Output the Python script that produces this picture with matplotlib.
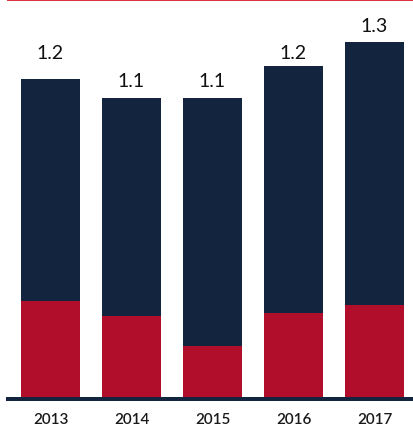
import matplotlib.pyplot as plt

# Yearly values, red segment at the bottom and navy segment stacked on top
years = ['2013', '2014', '2015', '2016', '2017']
red_part = [0.357, 0.302, 0.193, 0.314, 0.342]
navy_part = [0.808, 0.794, 0.903, 0.899, 0.958]
totals = [r + n for r, n in zip(red_part, navy_part)]

navy = '#13243f'
red = '#b00e2b'

plt.rcParams['font.family'] = ['Lato', 'DejaVu Sans']

fig = plt.figure(figsize=(4.14, 4.27), dpi=100)
ax = fig.add_axes([8 / 414, 27 / 427, 406 / 414, 399 / 427])

x = range(len(years))
ax.bar(x, red_part, width=0.728, color=red, linewidth=0)
ax.bar(x, navy_part, width=0.728, bottom=red_part, color=navy, linewidth=0)

# Total labels above each bar
for i, t in enumerate(totals):
    ax.annotate(f'{t:.1f}', (i, round(t, 1)), xytext=(0, 6), textcoords='offset points',
                ha='center', va='bottom', fontsize=14, color='#111111')

ax.set_xlim(-0.5247, 4.4877)
ax.set_ylim(0, 1.453)
ax.set_xticks(list(x))
ax.set_xticklabels(years, fontsize=11, fontweight='semibold', color='#1a1a1a')
ax.set_yticks([])
ax.tick_params(axis='x', length=0, pad=9.5)

for side in ['left', 'right']:
    ax.spines[side].set_visible(False)
ax.spines['top'].set_color('#d9343c')
ax.spines['top'].set_linewidth(1.44)
ax.spines['bottom'].set_color(navy)
ax.spines['bottom'].set_linewidth(2.88)

fig.savefig('out.png', dpi=100)
